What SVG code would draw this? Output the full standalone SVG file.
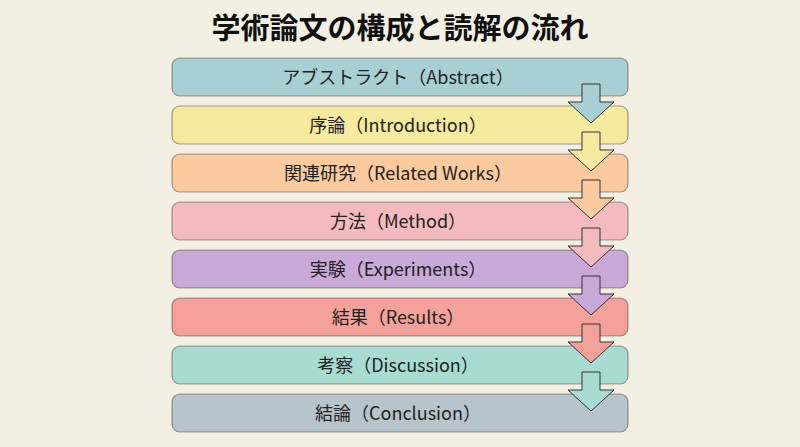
<svg xmlns="http://www.w3.org/2000/svg" width="800" height="447" viewBox="0 0 800 447">
<style>
.bg{fill:#f3f0e3}
.box{stroke:#000;stroke-opacity:0.35;stroke-width:1.2}
.lbl{font-family:"Noto Sans CJK JP","Noto Sans",sans-serif;font-size:18px;fill:#222;text-anchor:middle}
.title{font-family:"Noto Sans CJK JP","Noto Sans",sans-serif;font-size:29px;font-weight:bold;fill:#111;text-anchor:middle}
.arr{stroke:#333;stroke-width:1;stroke-linejoin:miter}
</style>
<defs>
<path id="arrow" d="M582,0 L600,0 L600,18 L614,18 L591,39 L568,18 L582,18 Z"/>
</defs>
<rect class="bg" x="0" y="0" width="800" height="447"/>
<text class="title" x="400" y="39">学術論文の構成と読解の流れ</text>
<g id="n1"><rect class="box" x="172" y="58" width="456" height="38" rx="8" fill="#a8d0d4"/><text class="lbl" x="398" y="83.5">アブストラクト（Abstract）</text></g>
<g id="n2"><rect class="box" x="172" y="106" width="456" height="38" rx="8" fill="#f6ea9f"/><text class="lbl" x="398" y="131.5">序論（Introduction）</text></g>
<g id="n3"><rect class="box" x="172" y="154" width="456" height="38" rx="8" fill="#fbca9e"/><text class="lbl" x="398" y="179.5">関連研究（Related Works）</text></g>
<g id="n4"><rect class="box" x="172" y="202" width="456" height="38" rx="8" fill="#f4bbbe"/><text class="lbl" x="398" y="227.5">方法（Method）</text></g>
<g id="n5"><rect class="box" x="172" y="250" width="456" height="38" rx="8" fill="#c8a9d8"/><text class="lbl" x="398" y="275.5">実験（Experiments）</text></g>
<g id="n6"><rect class="box" x="172" y="298" width="456" height="38" rx="8" fill="#f4a19b"/><text class="lbl" x="398" y="323.5">結果（Results）</text></g>
<g id="n7"><rect class="box" x="172" y="346" width="456" height="38" rx="8" fill="#a8dcd3"/><text class="lbl" x="398" y="371.5">考察（Discussion）</text></g>
<g id="n8"><rect class="box" x="172" y="394" width="456" height="38" rx="8" fill="#b8c4cc"/><text class="lbl" x="398" y="419.5">結論（Conclusion）</text></g>
<g id="connectors">
<use href="#arrow" class="arr" y="84" fill="#a8d0d4"/>
<use href="#arrow" class="arr" y="132" fill="#f6ea9f"/>
<use href="#arrow" class="arr" y="180" fill="#fbca9e"/>
<use href="#arrow" class="arr" y="228" fill="#f4bbbe"/>
<use href="#arrow" class="arr" y="276" fill="#c8a9d8"/>
<use href="#arrow" class="arr" y="324" fill="#f4a19b"/>
<use href="#arrow" class="arr" y="372" fill="#a8dcd3"/>
</g>
</svg>
